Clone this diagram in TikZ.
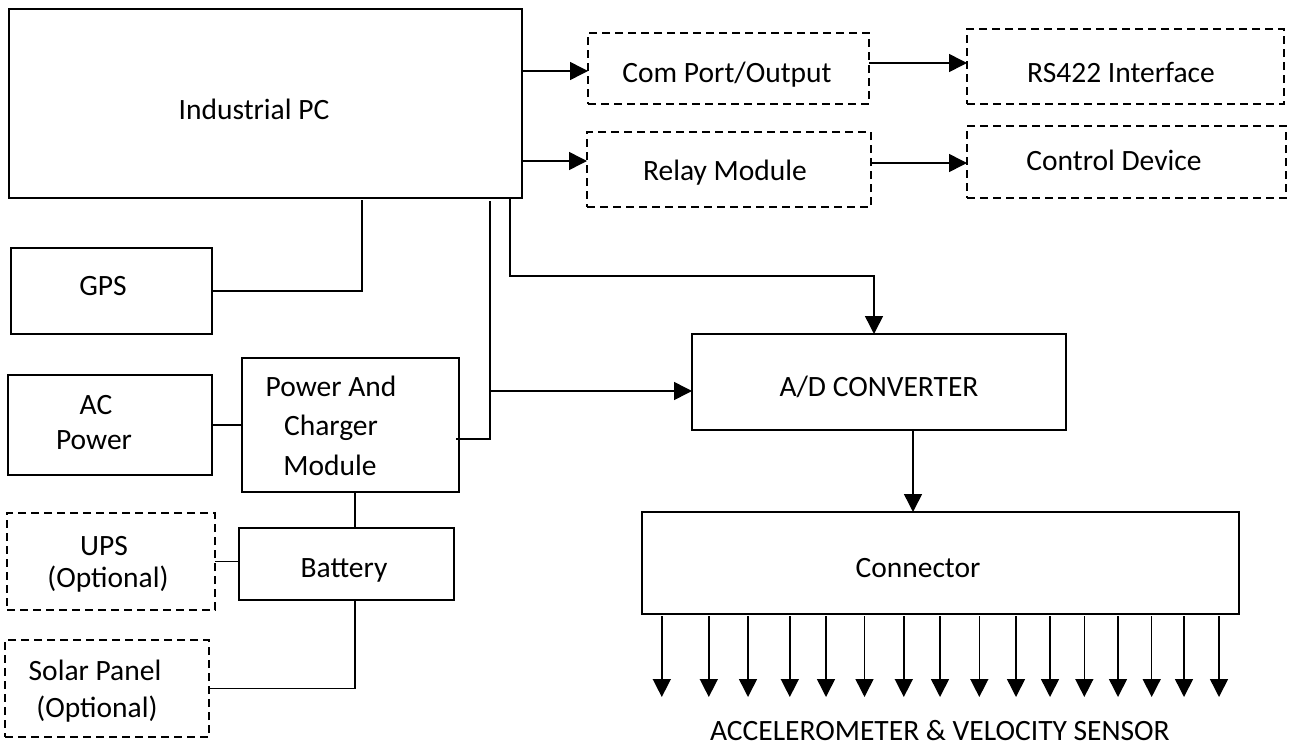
\documentclass[tikz,border=0pt]{standalone}
\usepackage{fontspec}
\setmainfont{Carlito}
\usetikzlibrary{arrows.meta,calc}
\begin{document}
\begin{tikzpicture}[x=1pt,y=-1pt,
  box/.style={draw=black,line width=1.6pt,inner sep=0pt,outer sep=0pt},
  dbox/.style={box,dash pattern=on 8pt off 5pt},
  txt/.style={inner sep=0pt,anchor=base,font=\fontsize{29.5}{36}\selectfont},
  wire/.style={draw=black,line width=1.5pt},
  arr/.style={wire,-{Triangle[length=18pt,width=18pt]}},
  font=\fontsize{29.5}{36}\selectfont]
\useasboundingbox (0,0) rectangle (1289,747);
% boxes
\node[box,minimum width=513pt,minimum height=189pt] (pc) at (265.5,103.5) {};
\node[dbox,minimum width=281pt,minimum height=71pt] (com) at (728.5,68.5) {};
\node[dbox,minimum width=284pt,minimum height=75pt] (relay) at (729,169.5) {};
\node[dbox,minimum width=317pt,minimum height=75pt] (rs) at (1125.5,66.5) {};
\node[dbox,minimum width=319pt,minimum height=72pt] (ctrl) at (1126.5,162) {};
\node[box,minimum width=374pt,minimum height=96pt] (ad) at (879,382) {};
\node[box,minimum width=597pt,minimum height=102pt] (conn) at (940.5,563) {};
\node[box,minimum width=201pt,minimum height=86pt] (gps) at (111.5,291) {};
\node[box,minimum width=204pt,minimum height=100pt] (ac) at (110,425) {};
\node[box,minimum width=217pt,minimum height=134pt] (pcm) at (350.5,425) {};
\node[box,minimum width=215pt,minimum height=72pt] (bat) at (346.5,564) {};
\node[dbox,minimum width=208pt,minimum height=97pt] (ups) at (111,561.5) {};
\node[dbox,minimum width=204pt,minimum height=97pt] (solar) at (107,688.5) {};
% texts
\node[txt] (tpc) at (254,119) {Industrial PC};
\node[txt] (tcom) at (727,82) {Com Port/Output};
\node[txt] (trelay) at (725,180) {Relay Module};
\node[txt] (trs) at (1121,82) {RS422 Interface};
\node[txt] (tctrl) at (1114,170) {Control Device};
\node[txt] (tad) at (879,396) {A/D CONVERTER};
\node[txt] (tconn) at (918,577) {Connector};
\node[txt] (tsens) at (940,740) {ACCELEROMETER \& VELOCITY SENSOR};
\node[txt] (tgps) at (103,295) {GPS};
\node[txt] (tac1) at (96,414) {AC};
\node[txt] (tac2) at (94,449) {Power};
\node[txt] (tpcm1) at (331,396) {Power And};
\node[txt] (tpcm2) at (331,435) {Charger};
\node[txt] (tpcm3) at (330,475) {Module};
\node[txt] (tbat) at (344,577) {Battery};
\node[txt] (tups1) at (104,555) {UPS};
\node[txt] (tups2) at (108,587) {(Optional)};
\node[txt] (tsol1) at (95,680) {Solar Panel};
\node[txt] (tsol2) at (97,717) {(Optional)};
% helper coordinates
\coordinate (y71) at (0,71);
\coordinate (y161) at (0,161);
\coordinate (y63) at (0,63);
\coordinate (y163) at (0,163);
\coordinate (xg) at (362,0);
\coordinate (xp) at (490,0);
\coordinate (yp) at (0,439);
\coordinate (ya) at (0,391);
\coordinate (xa) at (510,0);
\coordinate (yb) at (0,276);
\coordinate (xc) at (874,0);
\coordinate (xd) at (913,0);
\coordinate (xb) at (355,0);
% connectors
\draw[arr] (pc.east |- y71) -- (com.west |- y71);
\draw[arr] (pc.east |- y161) -- (relay.west |- y161);
\draw[arr] (com.east |- y63) -- (rs.west |- y63);
\draw[arr] (relay.east |- y163) -- (ctrl.west |- y163);
\draw[wire] (gps.east) -| ([yshift=-2pt]pc.south -| xg);
\draw[wire] ([xshift=-3pt]pcm.east |- yp) -| ([yshift=-3pt]pc.south -| xp);
\draw[arr] (xp |- ya) -- (ad.west |- ya);
\draw[arr] (pc.south -| xa) -- (xa |- yb) -| (ad.north -| xc);
\draw[arr] (ad.south -| xd) -- (conn.north -| xd);
\draw[wire] (ac.east) -- (pcm.west |- ac.east);
\draw[wire] (pcm.south -| xb) -- (bat.north -| xb);
\draw[wire] (ups.east) -- (bat.west |- ups.east);
\draw[wire] (bat.south -| xb) |- (solar.east);
\foreach \i/\x in {1/661.8,2/708.8,3/748,4/789.8,5/826,6/864.5,7/903.8,8/940,9/979.3,10/1016,11/1050,12/1084.3,13/1118,14/1151.7,15/1184,16/1219}{
  \coordinate (s\i) at (\x,697);
  \draw[arr] ([yshift=-2pt]conn.south -| s\i) -- (s\i);
}
\end{tikzpicture}
\end{document}
